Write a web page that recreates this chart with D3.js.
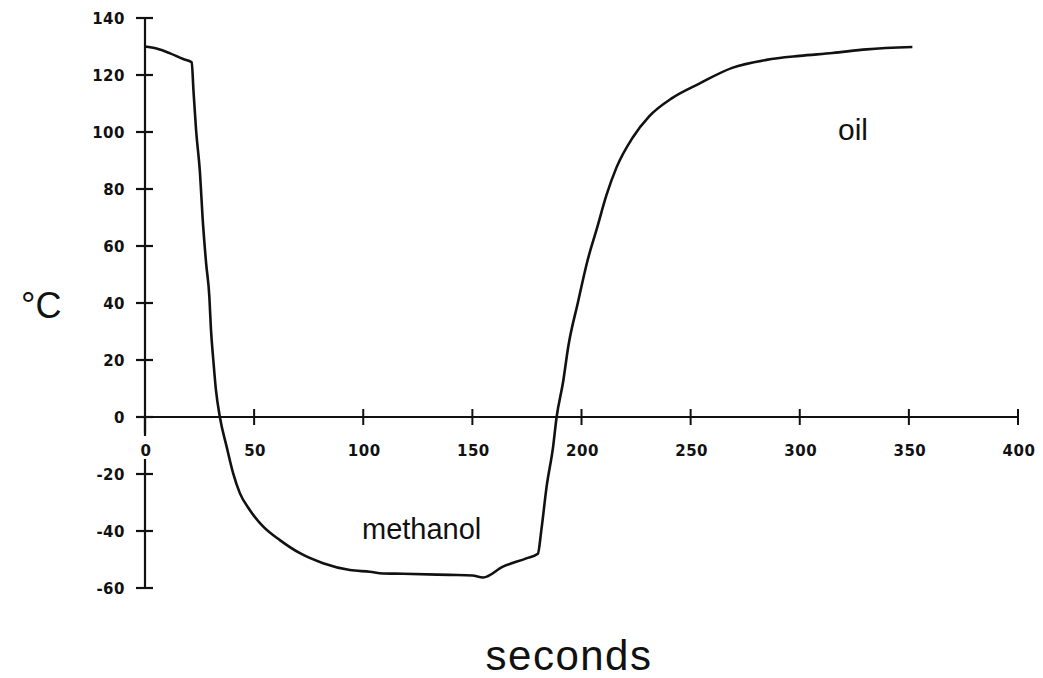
<!DOCTYPE html>
<html>
<head>
<meta charset="utf-8">
<script src="https://cdn.jsdelivr.net/npm/d3@7"></script>
<style>
  body { margin: 0; background: #fff; }
  .tick-label { font-family: "DejaVu Sans", sans-serif; font-weight: bold; font-size: 15px; letter-spacing: 0.5px; fill: #111; }
  .title { font-family: "Liberation Sans", Arial, sans-serif; fill: #111; }
</style>
</head>
<body>
<svg id="chart" width="1043" height="678"></svg>
<script>
// time in seconds
var seconds = [0, 5.3, 11.5, 17.5, 21.4, 22.2, 23.4, 25.2, 26.4, 28, 29.5, 30.2, 31.3, 32.5, 34.3,
  37.4, 40.4, 43.5, 48, 54.2, 61.8, 71, 81.6, 93.9, 103, 109, 118.3, 139.6, 150, 154.9,
  164, 174.7, 180, 181.6, 184, 187, 188.6, 191.5, 194, 198.3, 202.8, 207, 211.5, 216,
  223.4, 231, 241.7, 254, 269, 284.7, 300, 315, 330.6, 351.6];
// temperature in degrees C
var temps = [130, 129.3, 127.6, 125.6, 124.5, 114.7, 100.7, 85.6, 69.8, 54, 42, 31, 20, 9.5, 0,
  -10.4, -19.8, -26.8, -32.6, -38.5, -43.2, -47.8, -51.3, -53.7, -54.3, -54.9, -55, -55.4, -55.6, -56.3,
  -52.5, -49.6, -48, -39.7, -24.5, -10.4, 0, 12, 25, 40, 55, 66, 78, 87.5,
  98, 105.5, 112, 117, 122.5, 125.3, 126.7, 127.7, 129, 129.8];

var xTicks = [0, 50, 100, 150, 200, 250, 300, 350, 400];
var yTicks = [-60, -40, -20, 0, 20, 40, 60, 80, 100, 120, 140];

var svg = d3.select('#chart');

var x = d3.scaleLinear().domain([0, 400]).range([145, 1018]);
var y = d3.scaleLinear().domain([-60, 140]).range([588, 18]);

// axes lines
svg.append('line')
    .attr('x1', x(0)).attr('x2', x(0))
    .attr('y1', y(140)).attr('y2', y(-60))
    .attr('stroke', '#111').attr('stroke-width', 2.2);
svg.append('line')
    .attr('x1', x(0) - 8).attr('x2', x(400))
    .attr('y1', y(0)).attr('y2', y(0))
    .attr('stroke', '#111').attr('stroke-width', 2.2);

// y ticks cross the axis
svg.selectAll('line.ytick')
    .data(yTicks)
  .enter().append('line')
    .attr('class', 'ytick')
    .attr('x1', x(0) - 9).attr('x2', x(0) + 8)
    .attr('y1', function(d) { return y(d); })
    .attr('y2', function(d) { return y(d); })
    .attr('stroke', '#111').attr('stroke-width', 2.2);

svg.selectAll('text.ylab')
    .data(yTicks)
  .enter().append('text')
    .attr('class', 'tick-label ylab')
    .attr('x', 125)
    .attr('y', function(d) { return y(d); })
    .attr('dy', '0.37em')
    .attr('text-anchor', 'end')
    .text(function(d) { return d; });

// x ticks
svg.selectAll('line.xtick')
    .data(xTicks.slice(1))
  .enter().append('line')
    .attr('class', 'xtick')
    .attr('x1', function(d) { return x(d); })
    .attr('x2', function(d) { return x(d); })
    .attr('y1', y(0) - 8).attr('y2', y(0) + 8)
    .attr('stroke', '#111').attr('stroke-width', 2);
svg.append('line')
    .attr('x1', x(0)).attr('x2', x(0))
    .attr('y1', y(0)).attr('y2', y(0) + 16)
    .attr('stroke', '#111').attr('stroke-width', 2.2);

// the "0" label breaks the y axis
svg.append('rect')
    .attr('x', x(0) - 7).attr('y', 436)
    .attr('width', 14).attr('height', 23)
    .attr('fill', '#fff');

svg.selectAll('text.xlab')
    .data(xTicks)
  .enter().append('text')
    .attr('class', 'tick-label xlab')
    .attr('x', function(d) { return x(d) + 1; })
    .attr('y', 456)
    .attr('text-anchor', 'middle')
    .text(function(d) { return d; });

// the trace
var line = d3.line()
    .x(function(d) { return x(d[0]); })
    .y(function(d) { return y(d[1]); })
    .curve(d3.curveMonotoneX);

svg.append('path')
    .datum(d3.zip(seconds, temps))
    .attr('d', line)
    .attr('fill', 'none')
    .attr('stroke', '#111')
    .attr('stroke-width', 2.6)
    .attr('stroke-linejoin', 'round');

// labels
svg.append('text').attr('class', 'title')
    .attr('x', 362).attr('y', 539)
    .attr('font-size', 29)
    .text('methanol');
svg.append('text').attr('class', 'title')
    .attr('x', 838).attr('y', 140)
    .attr('font-size', 30)
    .text('oil');
svg.append('text').attr('class', 'title')
    .attr('x', 21).attr('y', 318)
    .attr('font-size', 36)
    .text('°C');
svg.append('text').attr('class', 'title')
    .attr('x', 569).attr('y', 670)
    .attr('text-anchor', 'middle')
    .attr('font-size', 42)
    .attr('letter-spacing', 1.5)
    .text('seconds');
</script>
</body>
</html>
